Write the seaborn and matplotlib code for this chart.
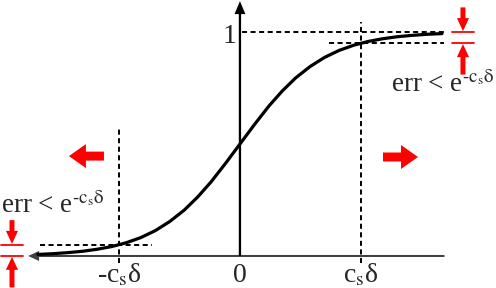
import matplotlib
matplotlib.use('Agg')
from matplotlib import pyplot as plt
import seaborn as sns

# sigmoid, x in units of c_s*delta
curve_x = [-1.67, -1.55, -1.42, -1.3, -1.18, -1.06, -0.94, -0.82, -0.7, -0.58, -0.46, -0.35,
           -0.24, -0.12, 0.0, 0.12, 0.24, 0.35, 0.46, 0.58, 0.7, 0.82, 0.94, 1.06, 1.18,
           1.3, 1.42, 1.55, 1.67]
curve_y = [0.007, 0.010, 0.015, 0.021, 0.030, 0.042, 0.059, 0.082, 0.113, 0.154, 0.205, 0.263,
           0.330, 0.413, 0.5, 0.587, 0.670, 0.737, 0.795, 0.846, 0.887, 0.918, 0.941, 0.958,
           0.970, 0.979, 0.985, 0.990, 0.993]
tick_pos = [-1, 0, 1]
tick_labels = ['-c$_\\mathrm{s}$δ', '0', 'c$_\\mathrm{s}$δ']
top_level = 1.0
err = 0.05
err_text = 'err < e$^{\u2010\\mathrm{c}_\\mathrm{s}\\mathrm{δ}}$'

sns.set_style('white')
plt.rcParams['font.family'] = ['Liberation Serif', 'DejaVu Serif']
plt.rcParams['mathtext.fontset'] = 'stix'

fig = plt.figure(figsize=(4.96, 2.88), dpi=100)
ax = fig.add_axes([0, 0, 1, 1])
ax.set_xlim(-1.983, 2.116)
ax.set_ylim(-0.143, 1.143)
ax.axis('off')

# axes
ax.arrow(1.69, 0, -1.69 - 1.75, 0, width=0.009, head_width=0.045, head_length=0.09,
         length_includes_head=True, color='#404040', lw=0)
ax.arrow(0, 0, 0, 1.138, width=0.019, head_width=0.09, head_length=0.058,
         length_includes_head=True, color='black', lw=0)

# dashed guides
dash = dict(color='black', lw=1.4, linestyle=(0, (2.6, 1.8)))
ax.plot([0.02, 1.69], [top_level, top_level], **dash)
ax.plot([0.74, 1.69], [top_level - err, top_level - err], **dash)
ax.plot([tick_pos[2], tick_pos[2]], [-0.03, 1.045], **dash)
ax.plot([tick_pos[0], tick_pos[0]], [-0.03, 0.571], **dash)
ax.plot([-1.65, -0.73], [err, err], **dash)

sns.lineplot(x=curve_x, y=curve_y, color='black', linewidth=2.3, sort=False, ax=ax)

# tick labels
for p, lab in zip(tick_pos, tick_labels):
    ax.text(p, -0.116, lab, ha='center', va='baseline', fontsize=20)
ax.text(-0.03, 0.951, '1', ha='right', va='baseline', fontsize=20)

# error annotations
ax.text(2.105, 0.732, err_text, ha='right', va='baseline', fontsize=19.5)
ax.text(-1.975, 0.192, err_text, ha='left', va='baseline', fontsize=19.5)

red = dict(color='red', lw=0, length_includes_head=True)
for xr, lo, hi in [(1.843, top_level - err, top_level), (-1.884, 0, err)]:
    ax.plot([xr - 0.09, xr + 0.09], [hi, hi], color='red', lw=1.3)
    ax.plot([xr - 0.09, xr + 0.09], [lo, lo], color='red', lw=1.3)
    ax.arrow(xr, hi + 0.11, 0, -0.106, width=0.041, head_width=0.1, head_length=0.058, **red)
    ax.arrow(xr, lo - 0.14, 0, 0.136, width=0.041, head_width=0.1, head_length=0.058, **red)

# big direction arrows
ax.arrow(-1.124, 0.446, -0.289, 0, width=0.04, head_width=0.107, head_length=0.14, **red)
ax.arrow(1.182, 0.442, 0.289, 0, width=0.04, head_width=0.107, head_length=0.14, **red)

fig.savefig('out.png', dpi=100)
